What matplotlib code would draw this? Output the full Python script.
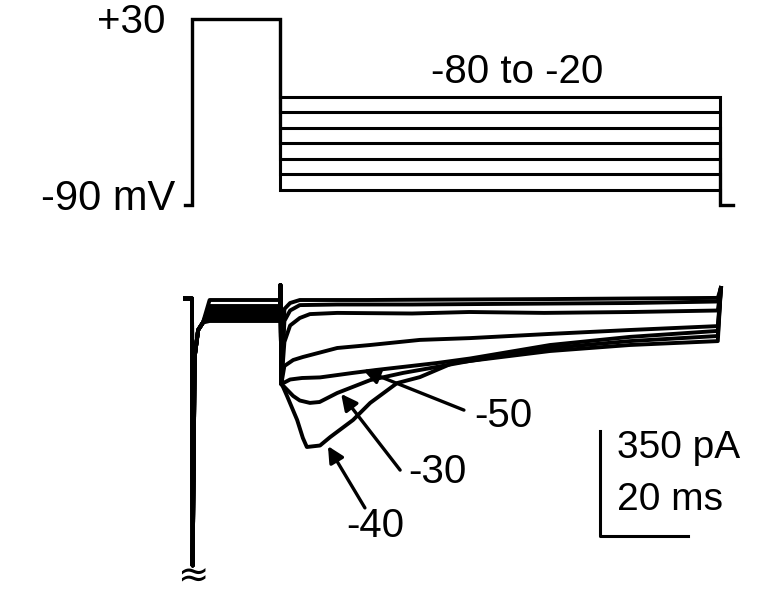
import matplotlib
matplotlib.use('Agg')
import matplotlib.pyplot as plt
import numpy as np

plt.rcParams['font.family'] = ['Liberation Sans', 'DejaVu Sans']

# voltage protocol (ms, mV)
hold_mv = -90
prepulse_mv = 30
step_mv = [-80, -70, -60, -50, -40, -30, -20]
proto_t = [-1.5, 0, 0, 20, 20, 120, 120, 123]

# current traces (ms, pA)
prepulse_pa = [-10, -30, -40, -50, -60, -70, -80]
spike_t = [-1.6, 0, 0.15, 0.6, 1.4, 2.5, 4, 20, 20.1, 20.3]
spike_pa = [-5, -5, -895, -200, -110, -85, None, None, 40, -290]

test_t = {
    -80: [21, 22.3, 24.5, 40, 80, 119.5, 120.2],
    -70: [21, 22.3, 24.5, 33, 50, 80, 100, 119.5, 120.2],
    -60: [21, 22.3, 24.5, 26.8, 33, 50, 63, 80, 100, 119.5, 120.2],
    -50: [21, 22.3, 25, 29.1, 36.6, 42, 48, 55.7, 63.2, 81.4, 99.5, 119.5, 120.2],
    -40: [20.7, 21.6, 23.9, 25.2, 26.1, 29.1, 31.4, 36.6, 40.5, 46.6, 51.8,
          59.3, 63.2, 81.4, 99.5, 119.5, 120.2],
    -30: [21, 23, 24.5, 26.8, 29, 33, 40.5, 48, 55.7, 63.2, 81.4, 99.5, 119.5, 120.2],
    -20: [21, 23, 25.2, 33, 40.5, 51.8, 63.2, 81.4, 99.5, 119.5, 120.2],
}
test_pa = {
    -80: [-40, -20, -10, -10, -7, -3, 30],
    -70: [-80, -45, -27, -25, -25, -22, -20, -15, 30],
    -60: [-150, -95, -70, -57, -53, -55, -50, -53, -50, -45, 30],
    -50: [-285, -275, -270, -268, -253, -243, -233, -220, -205, -160, -133, -113, 30],
    -40: [-300, -330, -410, -470, -500, -495, -467, -410, -353, -287, -267,
          -220, -213, -180, -160, -147, 30],
    -30: [-300, -330, -345, -353, -350, -320, -277, -253, -233, -213, -170, -147, -130, 30],
    -20: [-230, -210, -200, -170, -160, -143, -137, -123, -110, -97, 30],
}

# page scales (pixels per unit) and origin
W, H = 762, 600
px_ms = 4.4
x0 = 192
px_mv, y_hold = 1.55, 205
px_pa, y_zero = 0.3, 297

fig = plt.figure(figsize=(W / 100, H / 100), dpi=100)
ax_v = fig.add_axes([0, 0, 1, 1])
ax_i = fig.add_axes([0, 0, 1, 1])
xlim = (-x0 / px_ms, (W - x0) / px_ms)
for ax in (ax_v, ax_i):
    ax.set_xlim(*xlim)
    ax.axis('off')
    ax.patch.set_alpha(0)
ax_v.set_ylim(hold_mv - (H - y_hold) / px_mv, hold_mv + y_hold / px_mv)
ax_i.set_ylim(-(H - y_zero) / px_pa, y_zero / px_pa)

# voltage protocol
for v in step_mv:
    proto_v = [hold_mv, hold_mv, prepulse_mv, prepulse_mv, v, v, hold_mv, hold_mv]
    ax_v.plot(proto_t, proto_v, color='black', lw=2.2, solid_joinstyle='miter')

ax_v.text(-6.0, 28, '+30', ha='right', va='center', fontsize=29)
ax_v.text(-3.8, -86, '-90 mV', ha='right', va='center', fontsize=30)
ax_v.text(74, -4, '-80 to -20', ha='center', va='center', fontsize=29)

# current traces
for v, lvl in zip(step_mv, prepulse_pa):
    pre = [lvl if p is None else p for p in spike_pa]
    t = spike_t + test_t[v]
    i = pre + test_pa[v]
    ax_i.plot(t, i, color='black', lw=2.8, solid_joinstyle='round')

# axis break mark under the truncated transient
ax_i.text(0.2, -935, '≈', ha='center', va='center', fontsize=27,
          family='DejaVu Sans')

arrow = dict(arrowstyle='-|>', color='black', lw=2.4, mutation_scale=24,
             shrinkA=0, shrinkB=0)
ax_i.annotate('', xy=(38.9, -243), xytext=(61.8, -377), arrowprops=arrow)
ax_i.annotate('', xy=(33.9, -323), xytext=(47.3, -577), arrowprops=arrow)
ax_i.annotate('', xy=(30.9, -497), xytext=(39.3, -703), arrowprops=arrow)
ax_i.text(70.7, -397, '-50', ha='center', va='center', fontsize=29)
ax_i.text(55.7, -583, '-30', ha='center', va='center', fontsize=29)
ax_i.text(41.6, -763, '-40', ha='center', va='center', fontsize=29)

# scale bar: 350 pA, 20 ms
sb_t, sb_i = 92.7, -797
ax_i.plot([sb_t, sb_t, sb_t + 20], [sb_i + 350, sb_i, sb_i], color='black', lw=2.2)
ax_i.text(96.6, -503, '350 pA', ha='left', va='center', fontsize=28)
ax_i.text(96.6, -677, '20 ms', ha='left', va='center', fontsize=28)

fig.savefig('out.png', dpi=100, facecolor='white')
